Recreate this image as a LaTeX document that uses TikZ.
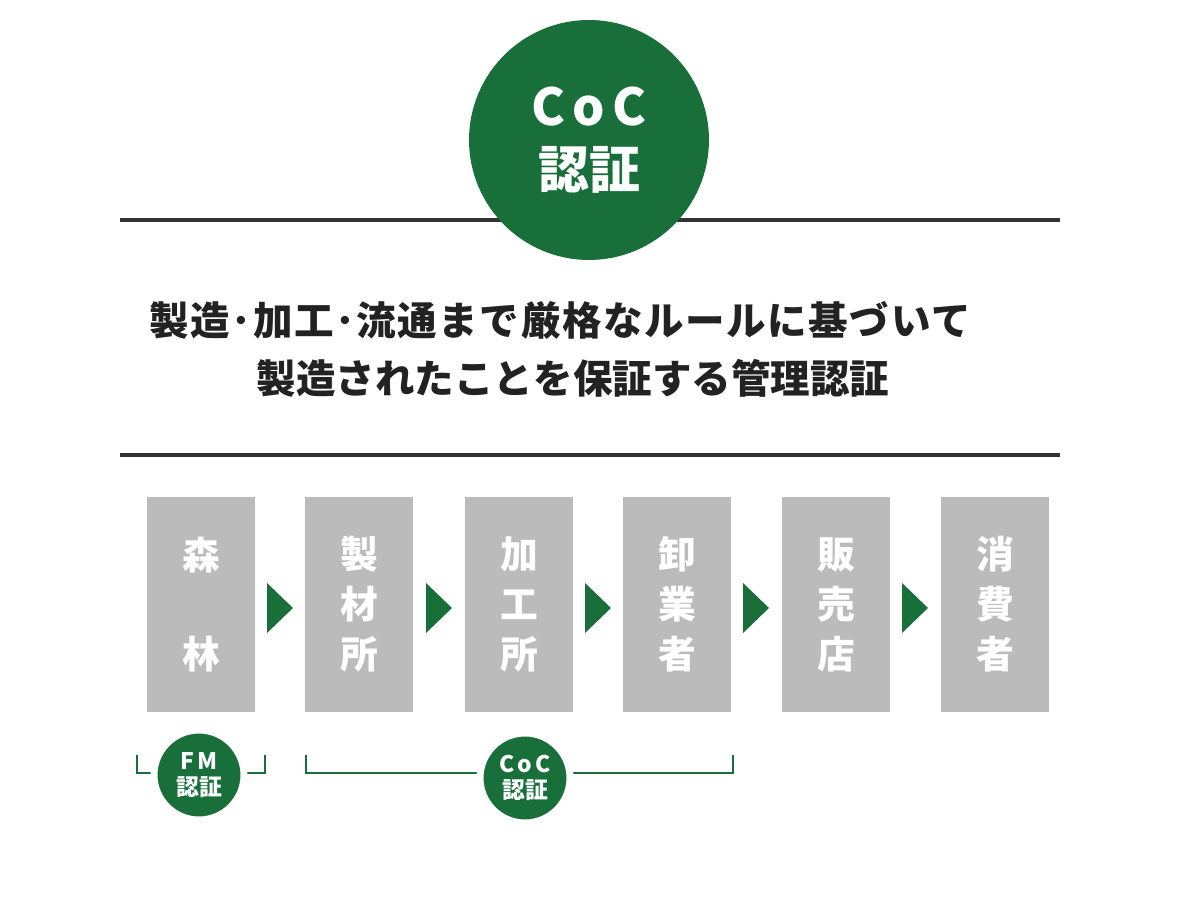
\documentclass[tikz,border=0pt]{standalone}
\usepackage{fontspec}
\setmainfont{Noto Sans CJK JP}
\definecolor{cocgreen}{RGB}{24,111,58}
\definecolor{rulegray}{RGB}{51,51,51}
\definecolor{boxgray}{RGB}{187,187,187}
\definecolor{textdark}{RGB}{34,34,34}

\begin{document}
\begin{tikzpicture}[x=0.02cm, y=-0.02cm]
  \tikzset{
    big_badge/.style={circle, fill=cocgreen, inner sep=0pt, minimum size=4.8cm, text=white, align=center,
      font=\bfseries\fontsize{29}{38}\selectfont},
    small_badge/.style={circle, fill=cocgreen, draw=white, line width=4pt, inner sep=0pt, minimum size=1.8cm,
      text=white, align=center, font=\bfseries\fontsize{13}{15}\selectfont},
    step_box/.style={rectangle, fill=boxgray, inner sep=0pt, minimum width=2.16cm, minimum height=4.3cm,
      text=white, align=center, font=\bfseries\fontsize{21.5}{28.4}\selectfont},
    rule_line/.style={draw=rulegray, line width=2.8pt},
    bracket_line/.style={draw=cocgreen, line width=1.4pt},
    flow_arrow/.style={fill=cocgreen},
    lead_text/.style={text=textdark, inner sep=0pt, font=\bfseries\fontsize{22.5}{26}\selectfont}
  }

  \useasboundingbox (0,0) rectangle (1180,911);

  % Linien oben
  \draw[rule_line] (120,220) -- (1060,220);
  \draw[rule_line] (120,455) -- (1060,455);

  % Kreis oben
  \node[big_badge] (coc) at (589,140) {{\addfontfeatures{LetterSpace=14}CoC}\\[-2pt]認証};

  % Erklaerung
  \node[lead_text] (line_a) at (560,320)
    {{\addfontfeatures{LetterSpace=4}製造･加工･流通まで厳格なルールに基づいて}};
  \node[lead_text] (line_b) at (573,378)
    {製造されたことを保証する管理認証};

  % Stufen
  \node[step_box] (forest) at (201,604.5) {森\\\mbox{}\\林};
  \node[step_box] (sawmill) at (359,604.5) {製\\材\\所};
  \node[step_box] (factory) at (519,604.5) {加\\工\\所};
  \node[step_box] (wholesale) at (677,604.5) {卸\\業\\者};
  \node[step_box] (shop) at (836,604.5) {販\\売\\店};
  \node[step_box] (consumer) at (995,604.5) {消\\費\\者};

  % Pfeile zwischen den Stufen
  \fill[flow_arrow] (267,583) -- (293,608) -- (267,633) -- cycle;
  \fill[flow_arrow] (426,583) -- (452,608) -- (426,633) -- cycle;
  \fill[flow_arrow] (585,583) -- (611,608) -- (585,633) -- cycle;
  \fill[flow_arrow] (743,583) -- (769,608) -- (743,633) -- cycle;
  \fill[flow_arrow] (902,583) -- (928,608) -- (902,633) -- cycle;

  % Klammern unten
  \coordinate (fm_l) at (137,755);
  \coordinate (fm_r) at (265,755);
  \coordinate (coc_l) at (306,755);
  \coordinate (coc_r) at (733,755);
  \draw[bracket_line] (fm_l) -- ++(0,18) -| (fm_r);
  \draw[bracket_line] (coc_l) -- ++(0,18) -| (coc_r);

  % Kreise unten
  \node[small_badge] (fm_badge) at (199,775) {{\addfontfeatures{LetterSpace=12}FM}\\認証};
  \node[small_badge] (coc_badge) at (525,778) {{\addfontfeatures{LetterSpace=12}CoC}\\認証};
\end{tikzpicture}
\end{document}
